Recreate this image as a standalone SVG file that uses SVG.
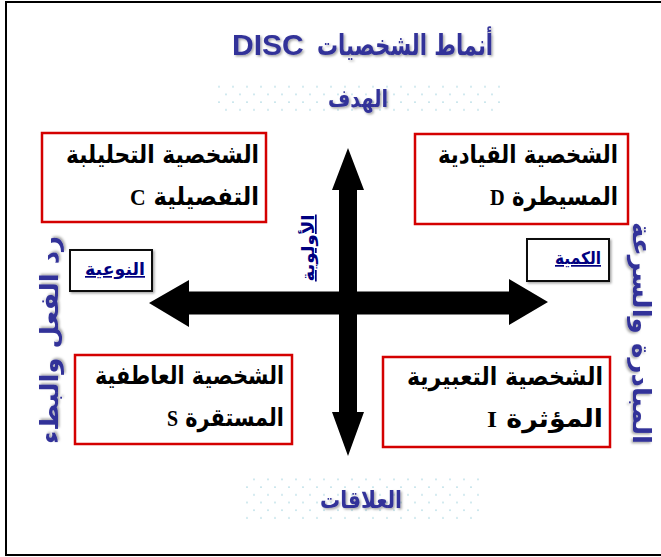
<svg xmlns="http://www.w3.org/2000/svg" width="661" height="557" viewBox="0 0 661 557">
  <defs>
    <pattern id="dots" width="14" height="15.4" patternUnits="userSpaceOnUse">
      <circle cx="2" cy="2" r="0.9" fill="#b3dbe4"/>
      <circle cx="9" cy="9.7" r="0.9" fill="#b3dbe4"/>
    </pattern>
    <filter id="shadow" x="-10%" y="-20%" width="130%" height="150%">
      <feDropShadow dx="1.5" dy="1.5" stdDeviation="0.8" flood-color="#000" flood-opacity="0.35"/>
    </filter>
  </defs>
  <style>
    .frame { fill: none; stroke: #000; stroke-width: 2; }
    .box { fill: #fff; stroke: #d40000; stroke-width: 2.5; }
    .tag { fill: #fff; stroke: #111; stroke-width: 2; }
    .arrow { fill: #000; }
    .ar { font-family: "DejaVu Sans", "Noto Sans", sans-serif; font-weight: bold; }
    .type { font-size: 25px; fill: #000; }
    .lat { font-family: "Liberation Serif", serif; font-weight: bold; font-size: 24px; }
    .sans { font-family: "Liberation Sans", Arial, sans-serif; font-weight: bold; }
    .blue { fill: #333399; }
    .navy { fill: #000080; text-decoration: underline; font-size: 17px; }
    .side { font-size: 25px; }
  </style>

  <rect class="frame" x="6" y="2" width="700" height="553"/>

  <!-- title -->
  <g id="title" filter="url(#shadow)">
    <text x="232" y="55" class="sans blue" font-size="30">DISC</text>
    <text x="493" y="55" text-anchor="end" class="ar blue" font-size="29" textLength="176" lengthAdjust="spacingAndGlyphs">أنماط الشخصيات</text>
  </g>

  <!-- axis captions on dotted panels -->
  <g id="goal">
    <rect x="213" y="80" width="290" height="32" fill="url(#dots)"/>
    <text x="358" y="107" text-anchor="middle" class="ar blue" font-size="24" textLength="60" lengthAdjust="spacingAndGlyphs" filter="url(#shadow)">الهدف</text>
  </g>
  <g id="relations">
    <rect x="241" y="474" width="240" height="50" fill="url(#dots)"/>
    <text x="361" y="508" text-anchor="middle" class="ar blue" font-size="24" textLength="82" lengthAdjust="spacingAndGlyphs" filter="url(#shadow)">العلاقات</text>
  </g>

  <!-- side captions -->
  <g id="reaction">
    <text transform="translate(58,340) rotate(-90)" text-anchor="middle" class="ar blue side" textLength="208" lengthAdjust="spacingAndGlyphs" filter="url(#shadow)">رد الفعل والبطء</text>
  </g>
  <g id="initiative">
    <text transform="translate(633,333) rotate(90)" text-anchor="middle" class="ar blue side" font-size="24" textLength="222" lengthAdjust="spacingAndGlyphs" filter="url(#shadow)">المبادرة والسرعة</text>
  </g>

  <!-- axes -->
  <g id="connectors">
    <path class="arrow" d="M149,303 L189,280 L189,291.5 L509,291.5 L509,279 L548,302 L509,325 L509,314.5 L189,314.5 L189,327 Z"/>
    <path class="arrow" d="M348,148 L364,190 L357,190 L357,412 L364,412 L348,456 L332,412 L339,412 L339,190 L332,190 Z"/>
  </g>

  <g id="priority">
    <text transform="translate(314,248) rotate(-90)" text-anchor="middle" class="ar navy" textLength="67" lengthAdjust="spacingAndGlyphs">الأولوية</text>
  </g>

  <g id="quality">
    <rect class="tag" x="70" y="250" width="82" height="41" filter="url(#shadow)"/>
    <text x="115" y="275" text-anchor="middle" class="ar navy" textLength="60" lengthAdjust="spacingAndGlyphs">النوعية</text>
  </g>
  <g id="quantity">
    <rect class="tag" x="527" y="239" width="82" height="42" filter="url(#shadow)"/>
    <text x="578" y="264" text-anchor="middle" class="ar navy" textLength="46" lengthAdjust="spacingAndGlyphs">الكمية</text>
  </g>

  <!-- the four styles -->
  <g id="C">
    <rect class="box" x="42" y="133" width="224" height="89"/>
    <text x="259" y="163" class="ar type" direction="rtl" unicode-bidi="embed" textLength="193" lengthAdjust="spacingAndGlyphs">الشخصية التحليلبة</text>
    <text x="259" y="205" class="ar type" direction="rtl" unicode-bidi="embed" textLength="129" lengthAdjust="spacingAndGlyphs">التفصيلية <tspan class="lat">C</tspan></text>
  </g>
  <g id="D">
    <rect class="box" x="415" y="134" width="213" height="90"/>
    <text x="618" y="163" class="ar type" direction="rtl" unicode-bidi="embed" textLength="180" lengthAdjust="spacingAndGlyphs">الشخصية القيادية</text>
    <text x="618" y="205" class="ar type" direction="rtl" unicode-bidi="embed" textLength="128" lengthAdjust="spacingAndGlyphs">المسيطرة <tspan class="lat">D</tspan></text>
  </g>
  <g id="S">
    <rect class="box" x="75" y="355" width="217" height="89"/>
    <text x="284" y="384" class="ar type" direction="rtl" unicode-bidi="embed" textLength="189" lengthAdjust="spacingAndGlyphs">الشخصية العاطفية</text>
    <text x="284" y="426" class="ar type" direction="rtl" unicode-bidi="embed" textLength="117" lengthAdjust="spacingAndGlyphs">المستقرة <tspan class="lat">S</tspan></text>
  </g>
  <g id="I">
    <rect class="box" x="383" y="357" width="227" height="90"/>
    <text x="603" y="385" class="ar type" direction="rtl" unicode-bidi="embed" textLength="196" lengthAdjust="spacingAndGlyphs">الشخصية التعبيرية</text>
    <text x="603" y="427" class="ar type" direction="rtl" unicode-bidi="embed" textLength="116" lengthAdjust="spacingAndGlyphs">المؤثرة <tspan class="lat">I</tspan></text>
  </g>
</svg>
